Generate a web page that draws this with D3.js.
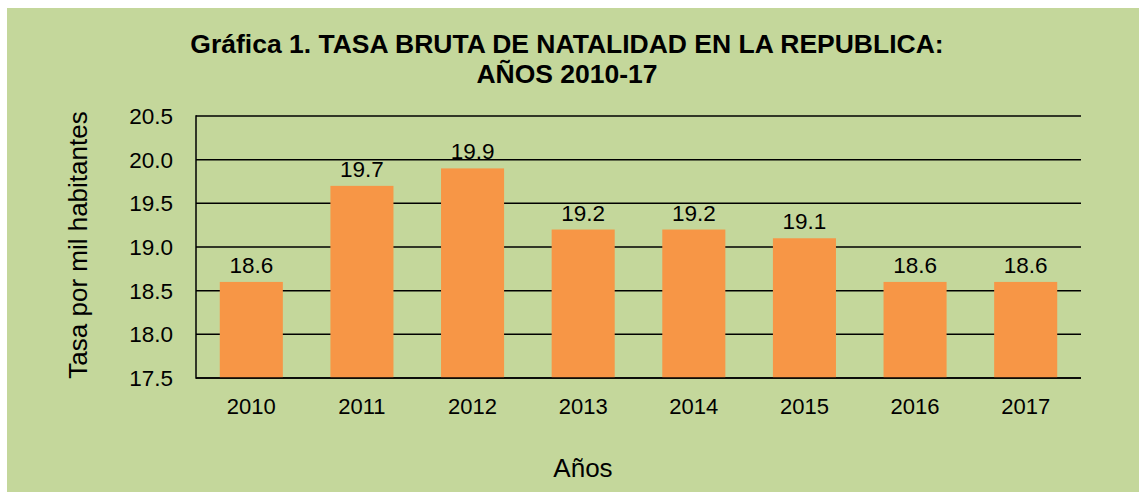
<!DOCTYPE html>
<html><head><meta charset="utf-8">
<script src="https://cdn.jsdelivr.net/npm/d3@7"></script>
<style>
html,body{margin:0;padding:0;background:#fff;}
svg{display:block;font-family:Arial,"Liberation Sans",sans-serif;}
</style></head>
<body>
<svg id="chart" width="1139" height="492"></svg>
<script>
const categories = ["2010","2011","2012","2013","2014","2015","2016","2017"];
const values = [18.6,19.7,19.9,19.2,19.2,19.1,18.6,18.6];
const yTicks = [17.5,18.0,18.5,19.0,19.5,20.0,20.5];
const titleLines = ["Gráfica 1. TASA BRUTA DE NATALIDAD EN LA REPUBLICA:","AÑOS 2010-17"];
const yTitle = "Tasa por mil habitantes";
const xTitle = "Años";

const svg = d3.select("#chart");
svg.append("rect").attr("x",7).attr("y",8).attr("width",1139-7).attr("height",492-8).attr("fill","#C4D79B");

const m = {left:196, right:1081, top:116, bottom:378};
const x = d3.scaleBand().domain(categories).range([m.left,m.right]).paddingInner(0.43).paddingOuter(0.215);
const y = d3.scaleLinear().domain([17.5,20.5]).range([m.bottom,m.top]);

// gridlines
svg.append("g").selectAll("line").data(yTicks).join("line")
  .attr("x1",m.left).attr("x2",m.right)
  .attr("y1",d=>y(d)).attr("y2",d=>y(d))
  .attr("stroke","#000").attr("stroke-width",1.5);

// bars
svg.append("g").selectAll("rect").data(values).join("rect")
  .attr("x",(d,i)=>x(categories[i]))
  .attr("width",x.bandwidth())
  .attr("y",d=>y(d))
  .attr("height",d=>y(17.5)-y(d))
  .attr("fill","#F79646");

// axis lines
svg.append("line").attr("x1",m.left).attr("x2",m.left).attr("y1",m.top-0.75).attr("y2",m.bottom+0.75).attr("stroke","#000").attr("stroke-width",1.5);
svg.append("line").attr("x1",m.left).attr("x2",m.right).attr("y1",m.bottom).attr("y2",m.bottom).attr("stroke","#000").attr("stroke-width",1.5);

// y tick labels
svg.append("g").selectAll("text").data(yTicks).join("text")
  .attr("x",173).attr("y",d=>y(d)).attr("dy","0.35em")
  .attr("text-anchor","end").attr("font-size",22.5).attr("fill","#000")
  .text(d=>d3.format(".1f")(d));

// x tick labels
svg.append("g").selectAll("text").data(categories).join("text")
  .attr("x",d=>x(d)+x.bandwidth()/2).attr("y",414)
  .attr("text-anchor","middle").attr("font-size",22).attr("fill","#000")
  .text(d=>d);

// value labels
svg.append("g").selectAll("text").data(values).join("text")
  .attr("x",(d,i)=>x(categories[i])+x.bandwidth()/2).attr("y",d=>y(d)-9)
  .attr("text-anchor","middle").attr("font-size",22.5).attr("fill","#000")
  .text(d=>d3.format(".1f")(d));

// title
svg.append("g").selectAll("text").data(titleLines).join("text")
  .attr("x",567).attr("y",(d,i)=>53+i*30)
  .attr("text-anchor","middle").attr("font-size",26.5).attr("font-weight","bold").attr("fill","#000")
  .text(d=>d);

// axis titles
svg.append("text").attr("transform","translate(87,245) rotate(-90)")
  .attr("text-anchor","middle").attr("font-size",26).attr("fill","#000").text(yTitle);
svg.append("text").attr("x",583).attr("y",477)
  .attr("text-anchor","middle").attr("font-size",26).attr("fill","#000").text(xTitle);
</script>
</body></html>
